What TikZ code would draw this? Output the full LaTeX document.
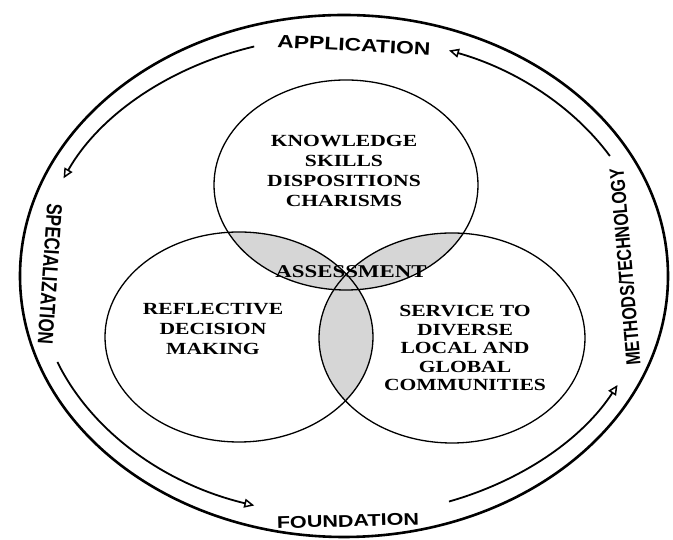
\documentclass[tikz,border=0pt]{standalone}
\usepackage{fontspec}
\setmainfont{Liberation Serif}
\newfontfamily\labelsans{Liberation Sans}
\usetikzlibrary{arrows.meta,calc}
\newcommand{\mywide}[1]{\scalebox{1.27}[1]{#1}}
\newcommand{\mytall}[1]{\scalebox{1}[1.27]{#1}}
\newcommand{\mylines}[1]{\begin{tabular}{@{}c@{}}#1\end{tabular}}
\begin{document}
\begin{tikzpicture}[x=1pt,y=1pt,
  ringlabel/.style={font=\labelsans\bfseries\fontsize{17}{20}\selectfont, inner sep=0pt},
  venntext/.style={font=\bfseries\fontsize{17}{20}\selectfont, inner sep=0pt},
  cycarrow/.style={line width=1.8pt, -{Triangle[open,length=10pt,width=9pt,line width=1.5pt]}},
  venn/.style={line width=1.3pt},
  lensfill/.style={fill=black!16}]
\useasboundingbox (0,0) rectangle (673,540);
\coordinate (C) at (344,264);
% outer ring
\draw[line width=2.6pt] (C) ellipse[x radius=324pt, y radius=261pt];
% cycle arrows
\draw[cycarrow] ($(C)+(107:307 and 240)$) arc[start angle=107, end angle=156, x radius=307pt, y radius=240pt];
\draw[cycarrow] ($(C)+(201:307 and 240)$) arc[start angle=201, end angle=253, x radius=307pt, y radius=240pt];
\draw[cycarrow] ($(C)+(290:307 and 240)$) arc[start angle=290, end angle=333, x radius=307pt, y radius=240pt];
\draw[cycarrow] ($(C)+(30:307 and 240)$) arc[start angle=30, end angle=70, x radius=307pt, y radius=240pt];
% ring labels
\node[ringlabel, font=\labelsans\bfseries\fontsize{18}{20}\selectfont, rotate=-3] (app) at (354,495) {\mywide{APPLICATION}};
\node[ringlabel, rotate=-94] (spec) at (50,266) {\mytall{SPECIALIZATION}};
\node[ringlabel, font=\labelsans\bfseries\fontsize{16}{20}\selectfont, rotate=95] (meth) at (625,273) {\mytall{METHODS/TECHNOLOGY}};
\node[ringlabel, rotate=1.5] (found) at (348,19) {\mywide{FOUNDATION}};
% Venn circles
\coordinate (T) at (346,355);
\coordinate (L) at (239,203);
\coordinate (R) at (452,202);
\begin{scope}
  \clip (T) ellipse[x radius=132pt, y radius=105pt];
  \fill[lensfill] (L) ellipse[x radius=134pt, y radius=105pt];
  \fill[lensfill] (R) ellipse[x radius=133pt, y radius=105pt];
\end{scope}
\begin{scope}
  \clip (L) ellipse[x radius=134pt, y radius=105pt];
  \fill[lensfill] (R) ellipse[x radius=133pt, y radius=105pt];
\end{scope}
\draw[venn] (T) ellipse[x radius=132pt, y radius=105pt];
\draw[venn] (L) ellipse[x radius=134pt, y radius=105pt];
\draw[venn] (R) ellipse[x radius=133pt, y radius=105pt];
% Venn texts
\node[venntext] (know) at (344,367) {\mywide{\mylines{KNOWLEDGE\\SKILLS\\DISPOSITIONS\\CHARISMS}}};
\node[venntext] (refl) at (213,209) {\mywide{\mylines{REFLECTIVE\\DECISION\\MAKING}}};
\node[venntext, font=\bfseries\fontsize{17}{18.5}\selectfont] (serv) at (465,190) {\mywide{\mylines{SERVICE TO\\DIVERSE\\LOCAL AND\\GLOBAL\\COMMUNITIES}}};
\node[venntext, font=\bfseries\fontsize{18}{20}\selectfont] (assess) at (351,268) {\mywide{ASSESSMENT}};
\end{tikzpicture}
\end{document}
